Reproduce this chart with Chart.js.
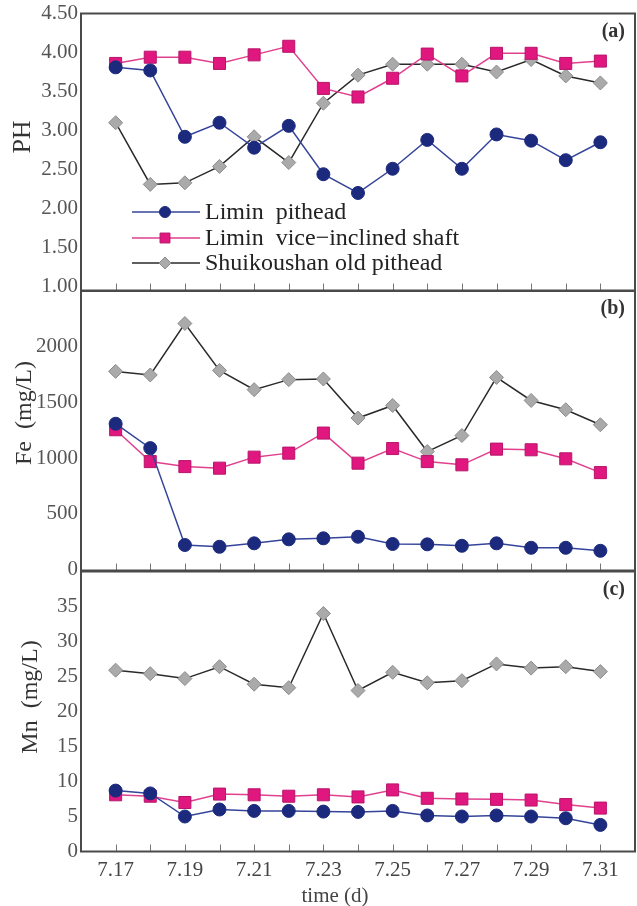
<!DOCTYPE html>
<html><head><meta charset="utf-8">
<script src="https://cdn.jsdelivr.net/npm/chart.js@4.4.1/dist/chart.umd.min.js"></script>
<style>
html,body{margin:0;padding:0;background:#fff;}
#wrap{position:relative;width:637px;height:906px;background:#fff;}
canvas{position:absolute;left:0;top:0;}
</style></head><body>
<div id="wrap">
<canvas id="cA" width="637" height="906"></canvas>
<canvas id="cB" width="637" height="906"></canvas>
<canvas id="cC" width="637" height="906"></canvas>
</div>
<script>
// ---------- data ----------
const dates = ['7.17','7.18','7.19','7.20','7.21','7.22','7.23','7.24','7.25','7.26','7.27','7.28','7.29','7.30','7.31'];
const xTickLabels = ['7.17','7.19','7.21','7.23','7.25','7.27','7.29','7.31'];
const seriesNames = ['Limin  pithead', 'Limin  vice\u2212inclined shaft', 'Shuikoushan old pithead'];

const phPithead = [3.81,3.77,2.92,3.10,2.78,3.06,2.44,2.20,2.51,2.88,2.51,2.95,2.87,2.62,2.85];
const phVice    = [3.86,3.94,3.94,3.86,3.97,4.08,3.54,3.43,3.67,3.98,3.70,3.99,3.99,3.86,3.89];
const phShui    = [3.10,2.31,2.33,2.54,2.92,2.59,3.35,3.71,3.85,3.85,3.85,3.75,3.91,3.70,3.61];

const fePithead = [1308,1089,219,203,234,270,279,293,228,225,212,234,194,194,167];
const feVice    = [1254,968,923,909,1008,1044,1224,954,1085,968,939,1080,1074,993,869];
const feShui    = [1778,1746,2208,1787,1614,1704,1710,1359,1472,1058,1202,1724,1517,1434,1299];

const mnPithead = [8.7,8.3,5.0,6.0,5.8,5.8,5.7,5.65,5.8,5.15,5.0,5.15,5.0,4.75,3.8];
const mnVice    = [8.1,7.9,7.0,8.2,8.1,7.9,8.1,7.8,8.8,7.6,7.5,7.45,7.35,6.7,6.2];
const mnShui    = [25.9,25.4,24.7,26.4,23.9,23.4,34.0,23.0,25.6,24.1,24.4,26.8,26.2,26.4,25.7];

const phTicks = [1.00,1.50,2.00,2.50,3.00,3.50,4.00,4.50];
const feTicks = [0,500,1000,1500,2000];
const mnTicks = [0,5,10,15,20,25,30,35];

// ---------- styles ----------
const FONT = '"Liberation Serif", "Times New Roman", serif';
Chart.defaults.font.family = FONT;
const W = 637, H = 906;
const AXIS_LEFT = 81, AXIS_RIGHT = 635;

const styles = [
  {line:'#34449a', fill:'#1c2a7e', border:'#1c2a7e', shape:'circle', r:6.5, lr:5.5},
  {line:'#e0408e', fill:'#e0177f', border:'#b8146a', shape:'rect', r:8.5, lr:7},
  {line:'#2a2a2a', fill:'#aaaaaa', border:'#8c8c8c', shape:'rectRot', r:7, lr:6}
];

function toPoints(arr){ return arr.map((v,i)=>({x:i+1, y:v})); }

function drawMarker(ctx, st, x, y, r){
  ctx.fillStyle = st.fill; ctx.strokeStyle = st.border; ctx.lineWidth = 1;
  ctx.beginPath();
  if (st.shape === 'circle') { ctx.arc(x, y, r, 0, Math.PI*2); }
  else if (st.shape === 'rect') { const s = r*Math.SQRT1_2; ctx.rect(x-s, y-s, 2*s, 2*s); }
  else { ctx.moveTo(x, y-r); ctx.lineTo(x+r, y); ctx.lineTo(x, y+r); ctx.lineTo(x-r, y); ctx.closePath(); }
  ctx.fill(); ctx.stroke();
}

const decor = {
  id: 'decor',
  afterDatasetsDraw(chart, args, o) {
    const {ctx, chartArea: a} = chart;
    const xs = chart.scales.x;
    ctx.save();
    // inward tick marks on the bottom edge, one per day
    ctx.strokeStyle = '#777'; ctx.lineWidth = 1;
    dates.forEach((d, i) => {
      const px = Math.round(xs.getPixelForValue(i + 1)) + 0.5;
      ctx.beginPath(); ctx.moveTo(px, a.bottom); ctx.lineTo(px, a.bottom - 7); ctx.stroke();
    });
    // frame
    ctx.strokeStyle = '#4a4a4a'; ctx.lineWidth = 2;
    ctx.strokeRect(a.left, a.top, a.right - a.left, a.bottom - a.top);
    // panel label
    ctx.fillStyle = '#333';
    ctx.font = 'bold 20px ' + FONT;
    ctx.textAlign = 'right'; ctx.textBaseline = 'middle';
    ctx.fillText(o.label, a.right - 10, a.top + 18);
    // y title
    ctx.save();
    ctx.translate(o.titleX, o.titleY);
    ctx.rotate(-Math.PI/2);
    ctx.font = o.titleSize + 'px ' + FONT;
    ctx.fillStyle = '#333';
    ctx.textAlign = 'center'; ctx.textBaseline = 'middle';
    ctx.fillText(o.title, 0, 0);
    ctx.restore();
    // x title
    if (o.xTitle) {
      ctx.font = '21px ' + FONT; ctx.fillStyle = '#444';
      ctx.textAlign = 'center'; ctx.textBaseline = 'middle';
      ctx.fillText(o.xTitle, o.xTitleX, o.xTitleY);
    }
    // legend
    if (o.legend) {
      const rows = [212, 238, 263];
      chart.data.datasets.forEach((ds, i) => {
        const st = styles[i], y = rows[i];
        ctx.strokeStyle = st.line; ctx.lineWidth = 1.5;
        ctx.beginPath(); ctx.moveTo(132, y); ctx.lineTo(200, y); ctx.stroke();
        drawMarker(ctx, st, 165, y, st.lr);
        ctx.fillStyle = '#222'; ctx.font = '24px ' + FONT;
        ctx.textAlign = 'left'; ctx.textBaseline = 'middle';
        ctx.fillText(ds.label, 205, y + 1);
      });
    }
    ctx.restore();
  }
};

function makePanel(p) {
  const datasets = p.series.map((arr, i) => ({
    label: seriesNames[i],
    data: toPoints(arr),
    borderColor: styles[i].line,
    borderWidth: 1.5,
    pointStyle: styles[i].shape,
    pointRadius: styles[i].r,
    pointBackgroundColor: styles[i].fill,
    pointBorderColor: styles[i].border,
    pointBorderWidth: 1,
    tension: 0
  }));
  return new Chart(document.getElementById(p.id), {
    type: 'line',
    data: { datasets },
    plugins: [decor],
    options: {
      responsive: false, animation: false, devicePixelRatio: 1,
      layout: { autoPadding: false, padding: { left: 0, right: W - AXIS_RIGHT, top: p.top, bottom: p.showX ? 0 : H - p.bottom } },
      plugins: {
        legend: { display: false }, tooltip: { enabled: false },
        decor: p.decor
      },
      scales: {
        x: {
          type: 'linear', min: 0, max: dates.length + 1,
          display: p.showX,
          grid: { display: false, drawTicks: false },
          border: { display: false },
          afterFit: s => { s.paddingLeft = 0; s.paddingRight = 0; if (p.showX) s.height = H - p.bottom; },
          afterBuildTicks: s => { s.ticks = []; for (let v = 0; v <= dates.length + 1; v++) s.ticks.push({value: v}); },
          ticks: {
            autoSkip: false, maxRotation: 0, padding: 6,
            color: '#444', font: { size: 21, lineHeight: 1.2 },
            callback: v => { const d = dates[v - 1]; return (d && xTickLabels.includes(d)) ? d : ''; }
          }
        },
        y: {
          min: p.min, max: p.max,
          grid: { display: false, drawTicks: false },
          border: { display: false },
          afterFit: s => { s.width = AXIS_LEFT; },
          afterBuildTicks: s => { s.ticks = p.ticks.map(v => ({value: v})); },
          ticks: {
            padding: 3, color: '#555', font: { size: 21, lineHeight: 1.0 },
            callback: p.fmt
          }
        }
      }
    }
  });
}

makePanel({ id:'cA', series:[phPithead, phVice, phShui], min:0.95, max:4.5, ticks:phTicks,
  fmt: v => Number(v).toFixed(2), top:11, bottom:290.5, showX:false,
  decor:{ label:'(a)', title:'PH', titleX:23, titleY:137, titleSize:26, legend:true } });
makePanel({ id:'cB', series:[fePithead, feVice, feShui], min:-10, max:2500, ticks:feTicks,
  fmt: v => String(v), top:291, bottom:570.5, showX:false,
  decor:{ label:'(b)', title:'Fe  (mg/L)', titleX:25, titleY:413, titleSize:24 } });
makePanel({ id:'cC', series:[mnPithead, mnVice, mnShui], min:0, max:40, ticks:mnTicks,
  fmt: v => String(v), top:571.5, bottom:851.5, showX:true,
  decor:{ label:'(c)', title:'Mn  (mg/L)', titleX:31, titleY:697, titleSize:24,
          xTitle:'time (d)', xTitleX:335, xTitleY:896 } });
</script>
</body></html>
